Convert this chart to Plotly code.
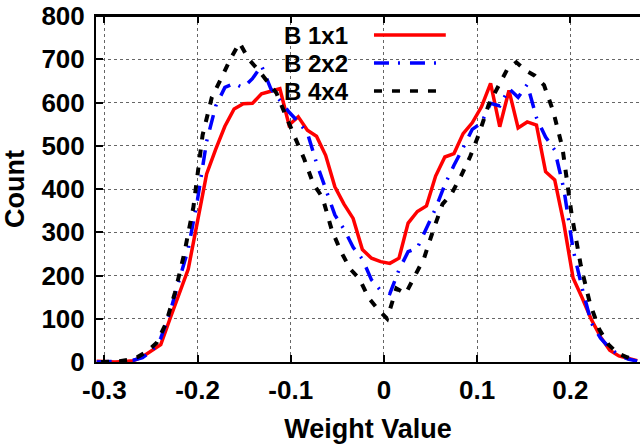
import plotly.graph_objects as go

# ---- data ----
x_bins = [-0.3083, -0.2985, -0.2886, -0.2788, -0.2690, -0.2591, -0.2493, -0.2395, -0.2296, -0.2198,
          -0.2100, -0.2001, -0.1903, -0.1805, -0.1707, -0.1608, -0.1510, -0.1412, -0.1314, -0.1215,
          -0.1117, -0.1019, -0.0920, -0.0822, -0.0724, -0.0626, -0.0527, -0.0429, -0.0331, -0.0232,
          -0.0134, -0.0036, 0.0063, 0.0161, 0.0259, 0.0358, 0.0456, 0.0554, 0.0653, 0.0751,
          0.0849, 0.0947, 0.1046, 0.1144, 0.1242, 0.1341, 0.1439, 0.1537, 0.1636, 0.1734,
          0.1832, 0.1930, 0.2029, 0.2127, 0.2225, 0.2324, 0.2422, 0.2520, 0.2619, 0.2717]

b1x1 = [2, 0, 0, 1, 3, 12, 26, 40, 100, 155,
        215, 325, 435, 492, 545, 585, 597, 598, 620, 626,
        632, 548, 567, 536, 522, 478, 405, 365, 332, 260,
        240, 232, 228, 240, 321, 348, 361, 430, 474, 482,
        528, 553, 590, 644, 544, 628, 541, 555, 548, 440,
        421, 320, 194, 148, 98, 58, 27, 14, 8, 3]

b2x2 = [0, 0, 0, 2, 4, 10, 25, 55, 115, 188,
        262, 375, 510, 592, 635, 644, 634, 655, 685, 632,
        605, 578, 555, 530, 460, 400, 340, 307, 265, 238,
        190, 165, 158, 213, 255, 264, 309, 355, 410, 455,
        495, 538, 553, 598, 592, 632, 612, 642, 565, 520,
        490, 400, 260, 170, 90, 55, 32, 16, 7, 2]

x_bins_4x4 = [-0.3035, -0.2936, -0.2837, -0.2738, -0.2639, -0.2540, -0.2441, -0.2342, -0.2243, -0.2144,
              -0.2045, -0.1946, -0.1847, -0.1748, -0.1649, -0.1550, -0.1451, -0.1352, -0.1253, -0.1154,
              -0.1055, -0.0956, -0.0857, -0.0758, -0.0659, -0.0560, -0.0461, -0.0362, -0.0263, -0.0164,
              -0.0065, 0.0034, 0.0133, 0.0232, 0.0331, 0.0430, 0.0529, 0.0628, 0.0727, 0.0826,
              0.0925, 0.1024, 0.1123, 0.1222, 0.1321, 0.1420, 0.1519, 0.1618, 0.1717, 0.1816,
              0.1915, 0.2014, 0.2113, 0.2212, 0.2311, 0.2410, 0.2509, 0.2608, 0.2707]

b4x4 = [0, 0, 2, 5, 12, 25, 44, 88, 160, 250,
        358, 525, 612, 655, 700, 738, 700, 676, 650, 622,
        570, 520, 470, 412, 380, 305, 255, 215, 192, 148,
        122, 100, 170, 158, 198, 240, 305, 365, 390, 430,
        475, 530, 595, 638, 676, 693, 674, 662, 640, 580,
        495, 340, 222, 134, 75, 40, 20, 11, 3]

series_names = ["B 1x1", "B 2x2", "B 4x4"]
x_ticks = [-0.3, -0.2, -0.1, 0, 0.1, 0.2]
x_tick_text = ["-0.3", "-0.2", "-0.1", "0", "0.1", "0.2"]
y_ticks = [0, 100, 200, 300, 400, 500, 600, 700, 800]

# ---- styles ----
FONT = "Liberation Sans, Arial, Helvetica, sans-serif"
colors = ["#ff0000", "#0000ff", "#000000"]
dashes = ["solid", "15px,9px,2px,10px", "8px,10px"]
widths = [3.5, 3.5, 4]

fig = go.Figure()
for xs, ys, name, c, d, w in [(x_bins, b1x1, series_names[0], colors[0], dashes[0], widths[0]),
                              (x_bins, b2x2, series_names[1], colors[1], dashes[1], widths[1]),
                              (x_bins_4x4, b4x4, series_names[2], colors[2], dashes[2], widths[2])]:
    fig.add_trace(go.Scatter(x=xs, y=ys, mode="lines", name=name,
                             line=dict(color=c, width=w, dash=d)))

axis_common = dict(
    ticks="inside", ticklen=7, tickwidth=1.5, tickcolor="black",
    showline=True, linecolor="black", linewidth=2,
    showgrid=True, gridcolor="#666666", griddash="dot", gridwidth=1,
    zeroline=False, automargin=False, ticklabeloverflow="allow",
    tickfont=dict(family=FONT, size=26, color="black", weight="bold"),
)

fig.update_xaxes(range=[-0.309, 0.2747], tickmode="array", tickvals=x_ticks, ticktext=x_tick_text,
                 mirror="ticks", ticklabelstandoff=4,
                 title=dict(text="Weight Value", standoff=20,
                            font=dict(family=FONT, size=27, color="black", weight="bold")),
                 **axis_common)
fig.update_yaxes(range=[0, 800], tickmode="array", tickvals=y_ticks,
                 ticklabelstandoff=4,
                 title=dict(text="Count", standoff=14,
                            font=dict(family=FONT, size=27, color="black", weight="bold")),
                 **axis_common)

# ---- key (text left, sample right, as in the reference) ----
key_y = [0.945, 0.864, 0.783]
shapes = [dict(type="rect", xref="paper", yref="paper", x0=0.340, x1=0.673, y0=0.746, y1=1.0,
               fillcolor="white", line=dict(width=0), layer="between"),
          # top border of the plot frame
          dict(type="line", xref="paper", yref="paper", x0=0, x1=1, y0=1, y1=1,
               line=dict(color="black", width=2), layer="above")]
annotations = []
for i, name in enumerate(series_names):
    shapes.append(dict(type="line", xref="paper", yref="paper", x0=0.511, x1=0.643,
                       y0=key_y[i], y1=key_y[i], line=dict(color=colors[i], width=3.5, dash=dashes[i])))
    annotations.append(dict(text="<b>" + name + "</b>", xref="paper", yref="paper", x=0.342, y=key_y[i],
                            xanchor="left", yanchor="middle", showarrow=False,
                            font=dict(family=FONT, size=24, color="black")))

fig.update_layout(width=640, height=444, margin=dict(l=96, r=0, t=16, b=82),
                  plot_bgcolor="white", paper_bgcolor="white", showlegend=False,
                  shapes=shapes, annotations=annotations)

# remove the default page margin so the figure sits at the window's top-left corner
fig.write_html("out.html", config={"displayModeBar": False},
               post_script="document.body.style.margin='0';document.body.style.overflow='hidden';")
